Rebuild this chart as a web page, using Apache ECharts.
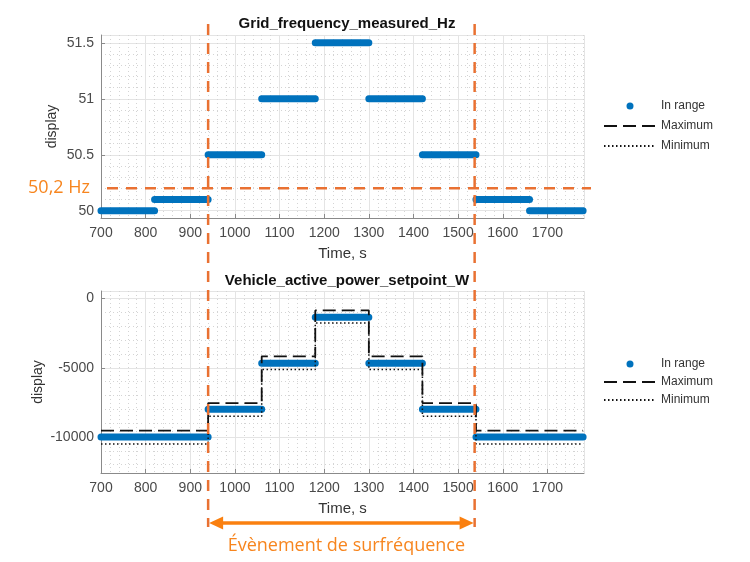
<!DOCTYPE html>
<html><head><meta charset="utf-8">
<script src="https://cdn.jsdelivr.net/npm/echarts@6/dist/echarts.min.js"></script>
<style>html,body{margin:0;padding:0;background:#fff}#c{width:750px;height:562px}</style>
</head><body><div id="c"></div>
<script>
// ---- data ----
const freqSegStart = [700, 820, 940, 1060, 1180, 1300, 1420, 1540, 1660];
const freqSegEnd   = [820, 940, 1060, 1180, 1300, 1420, 1540, 1660, 1780];
const freqValues   = [50, 50.1, 50.5, 51, 51.5, 51, 50.5, 50.1, 50];

const powerSegStart = [700, 940, 1060, 1180, 1300, 1420, 1540];
const powerSegEnd   = [940, 1060, 1180, 1300, 1420, 1540, 1780];
const powerInRange  = [-10000, -8000, -4670, -1340, -4670, -8000, -10000];
const powerMaximum  = [-9540, -7550, -4180, -850, -4180, -7550, -9540];
const powerMinimum  = [-10500, -8500, -5120, -1760, -5120, -8500, -10500];

const thresholdHz = [50.2];
const eventTimes = [940, 1537];
const legendNames = ['In range', 'Maximum', 'Minimum'];

// ---- helpers ----
function segments(starts, ends, vals) {
  const out = [];
  for (let i = 0; i < vals.length; i++) {
    out.push([starts[i], vals[i]]);
    out.push([ends[i], vals[i]]);
    out.push([ends[i], '-']);
  }
  return out;
}
function steps(starts, ends, vals) {
  const out = [];
  for (let i = 0; i < vals.length; i++) {
    out.push([starts[i], vals[i]]);
    out.push([ends[i], vals[i]]);
  }
  return out;
}

const BLUE = '#0072BD';
const axisColor = '#8a8a8a';
const labelFont = {color: '#4a4a4a', fontSize: 14, fontFamily: 'Liberation Sans'};
const plain = function (v) { return String(v); };

function xAx(gi) {
  return {
    type: 'value', gridIndex: gi, min: 700, max: 1782, splitNumber: 10,
    name: 'Time, s', nameLocation: 'middle', nameGap: 28, nameMoveOverlap: false,
    nameTextStyle: {color: '#333', fontSize: 15, fontFamily: 'Liberation Sans'},
    axisLine: {show: true, onZero: false, lineStyle: {color: axisColor}},
    axisTick: {show: true, inside: true, length: 4, lineStyle: {color: axisColor}},
    axisLabel: Object.assign({margin: 8, showMinLabel: true, showMaxLabel: false, formatter: plain}, labelFont),
    splitLine: {show: true, lineStyle: {color: '#e4e4e4'}},
    minorTick: {show: false, splitNumber: 5},
    minorSplitLine: {show: true, lineStyle: {color: '#d4d4d4', type: [1, 3]}}
  };
}
function yAx(gi, min, max, gap) {
  return {
    type: 'value', gridIndex: gi, min: min, max: max, splitNumber: 3,
    name: 'display', nameLocation: 'middle', nameGap: gap, nameMoveOverlap: false,
    nameTextStyle: {color: '#333', fontSize: 14, fontFamily: 'Liberation Sans'},
    axisLine: {show: true, lineStyle: {color: axisColor}},
    axisTick: {show: true, inside: true, length: 4, lineStyle: {color: axisColor}},
    axisLabel: Object.assign({margin: 7, showMinLabel: false, showMaxLabel: false, formatter: plain}, labelFont),
    splitLine: {show: true, lineStyle: {color: '#e4e4e4'}},
    minorTick: {show: false, splitNumber: 5},
    minorSplitLine: {show: true, lineStyle: {color: '#d4d4d4', type: [1, 3]}}
  };
}

function legendFor(top, gap) {
  return {
    orient: 'vertical', left: 598, top: top,
    itemWidth: 52, itemHeight: 7, itemGap: gap,
    textStyle: {color: '#333', fontSize: 12, fontFamily: 'Liberation Sans'},
    selectedMode: false,
    data: [
      {name: legendNames[0], icon: 'circle'},
      {name: legendNames[1]},
      {name: legendNames[2]}
    ]
  };
}

const chart = echarts.init(document.getElementById('c'), null, {renderer: 'canvas'});
chart.setOption({
  animation: false,
  backgroundColor: '#fff',
  title: [
    {text: 'Grid_frequency_measured_Hz', left: 342, top: 11, textAlign: 'center',
     textStyle: {fontSize: 15, fontWeight: 'bold', color: '#111', fontFamily: 'Liberation Sans'}},
    {text: 'Vehicle_active_power_setpoint_W', left: 342, top: 268, textAlign: 'center',
     textStyle: {fontSize: 15, fontWeight: 'bold', color: '#111', fontFamily: 'Liberation Sans'}}
  ],
  legend: [legendFor(95, 8), legendFor(353, 6)],
  grid: [
    {left: 101, top: 35, width: 483, height: 183},
    {left: 101, top: 291, width: 483, height: 182}
  ],
  xAxis: [xAx(0), xAx(1)],
  yAxis: [yAx(0, 49.935, 51.57, 42), yAx(1, -12600, 550, 56)],
  series: [
    {name: legendNames[0], type: 'line', xAxisIndex: 0, yAxisIndex: 0, symbol: 'none',
     data: segments(freqSegStart, freqSegEnd, freqValues), connectNulls: false,
     color: BLUE, lineStyle: {color: BLUE, width: 7, cap: 'round'}, z: 3},
    {name: legendNames[0], type: 'line', xAxisIndex: 1, yAxisIndex: 1, symbol: 'none',
     data: segments(powerSegStart, powerSegEnd, powerInRange), connectNulls: false,
     color: BLUE, lineStyle: {color: BLUE, width: 7, cap: 'round'}, z: 3},
    {name: legendNames[1], type: 'line', xAxisIndex: 1, yAxisIndex: 1, symbol: 'none',
     data: steps(powerSegStart, powerSegEnd, powerMaximum),
     color: '#000', itemStyle: {opacity: 0},
     lineStyle: {color: '#111', width: 1.8, type: [13, 6]}, z: 4},
    {name: legendNames[2], type: 'line', xAxisIndex: 1, yAxisIndex: 1, symbol: 'none',
     data: steps(powerSegStart, powerSegEnd, powerMinimum),
     color: '#000', itemStyle: {opacity: 0},
     lineStyle: {color: '#111', width: 1.5, type: [1.5, 2.5]}, z: 4}
  ]
});

// ---- annotations (positions derived from data via the axes) ----
const DASH = '#E97132';
const ORANGE = '#F7851E';
const xa = chart.convertToPixel({xAxisIndex: 0}, eventTimes[0]);
const xb = chart.convertToPixel({xAxisIndex: 0}, eventTimes[1]);
const yT = chart.convertToPixel({yAxisIndex: 0}, thresholdHz[0]);
const arrowY = 523;
const g = [];
[xa, xb].forEach(function (x) {
  g.push({type: 'line', z: 100, shape: {x1: x, y1: 24, x2: x, y2: 527},
          style: {stroke: DASH, lineWidth: 2.5, lineDash: [11, 8]}});
});
g.push({type: 'line', z: 100, shape: {x1: 107, y1: yT, x2: 591, y2: yT},
        style: {stroke: DASH, lineWidth: 2.5, lineDash: [11, 8]}});
g.push({type: 'text', z: 100, x: 90, y: yT,
        style: {text: '50,2 Hz', fill: ORANGE, font: '18px "Open Sans"', align: 'right', verticalAlign: 'middle'}});
g.push({type: 'line', z: 100, shape: {x1: xa + 10, y1: arrowY, x2: xb - 10, y2: arrowY},
        style: {stroke: '#FA8010', lineWidth: 3.5}});
g.push({type: 'polygon', z: 100, shape: {points: [[xa + 1, arrowY], [xa + 15, arrowY - 6.5], [xa + 15, arrowY + 6.5]]},
        style: {fill: '#FA8010'}});
g.push({type: 'polygon', z: 100, shape: {points: [[xb - 1, arrowY], [xb - 15, arrowY - 6.5], [xb - 15, arrowY + 6.5]]},
        style: {fill: '#FA8010'}});
g.push({type: 'text', z: 100, x: (xa + xb) / 2 + 5, y: 546,
        style: {text: 'Évènement de surfréquence', fill: ORANGE, font: '18px "Open Sans"', align: 'center', verticalAlign: 'middle'}});
chart.setOption({graphic: g});
</script>
</body></html>
